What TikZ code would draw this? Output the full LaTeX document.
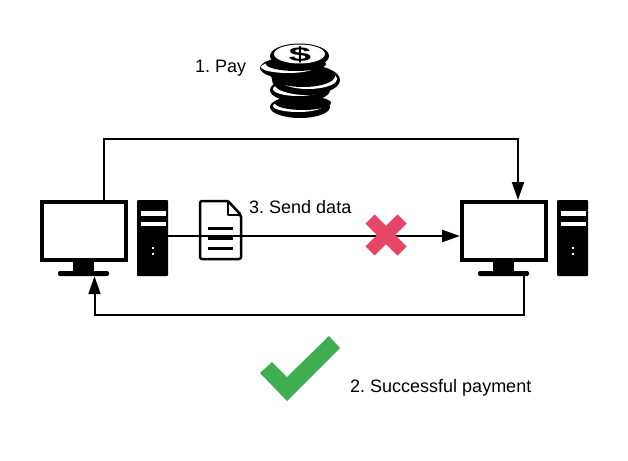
\documentclass[tikz,border=0pt]{standalone}
\usepackage{fontspec}
\setmainfont{Liberation Sans}
\usetikzlibrary{arrows.meta}
\frenchspacing
\definecolor{CrossRed}{RGB}{230,69,102}
\definecolor{TickGreen}{RGB}{63,174,80}
\tikzset{
  screen/.style={rectangle,draw=black,fill=white,line width=4pt,inner sep=0pt,
    minimum width=84pt,minimum height=58pt},
  stand/.style={rectangle,fill=black,inner sep=0pt,minimum width=21pt,minimum height=10pt},
  foot/.style={rectangle,fill=black,rounded corners=2pt,inner sep=0pt,
    minimum width=51pt,minimum height=5pt},
  tower/.style={rectangle,fill=black,rounded corners=1pt,inner sep=0pt,
    minimum width=31pt,minimum height=76pt},
  slot/.style={rectangle,fill=white,inner sep=0pt,minimum width=25pt,minimum height=4.5pt},
  led/.style={rectangle,fill=white,inner sep=0pt,minimum width=2pt,minimum height=2pt},
  link/.style={draw=black,line width=2pt,-{Triangle[length=18pt,width=12pt]}},
  label/.style={anchor=west,inner sep=0pt,font=\fontsize{18}{20}\selectfont},
  docline/.style={line width=3pt,draw=black},
}
\begin{document}
\begin{tikzpicture}[x=1pt,y=-1pt]
  \useasboundingbox (0,0) rectangle (628,460);
  % computers
  \foreach \side/\dx in {L/0,R/420} {
    \node[stand] (stand\side) at (83.5+\dx,267) {};
    \node[screen] (screen\side) at (84+\dx,231) {};
    \node[foot] (foot\side) at (83.5+\dx,273.5) {};
    \node[tower] (tower\side) at (152.5+\dx,238) {};
    \node[slot] at (153.5+\dx,213.5) {};
    \node[slot] at (153.5+\dx,224) {};
    \node[led] at (153+\dx,248) {};
    \node[led] at (153+\dx,254) {};
  }
  % coins
  \foreach \cx/\cy/\rx/\ry/\wx/\kx in {300/107/30/11/-2/3,300/90/30/12/-2/4,306/80/34/15/2/-3,292/68/32/11/-4/4} {
    \fill[black] (\cx,\cy) ellipse ({\rx} and {\ry});
    \fill[white] (\cx+\wx,\cy-1) ellipse ({\rx-5} and {\ry-5});
    \fill[black] (\cx+\kx,\cy-4) ellipse ({\rx-2} and {\ry-4});
  }
  \fill[black] (299.5,56) ellipse (29.5 and 12.5);
  \fill[white] (299.5,54) ellipse (25.5 and 9.5);
  \node[inner sep=0pt,font=\bfseries\fontsize{20}{20}\selectfont,xscale=2] (dollar) at (300,55) {\$};
  % document
  \draw[line width=2.5pt,line join=round,rounded corners=2pt] (228,201) -- (200,201) -- (200,259) -- (241,259) -- (241,215) -- (228,201);
  \draw[line width=2.5pt,line join=round] (228,201) -- (228,215) -- (241,215);
  \draw[docline] (208,228) -- (233,228);
  \draw[docline] (208,238) -- (233,238);
  \draw[docline] (208,248) -- (233,248);
  % connectors
  \draw[link] ([xshift=20pt]screenL.north) -- ++(0,-61) -| ([xshift=14pt]screenR.north);
  \draw[link] ([xshift=20pt]footR.south) -- ++(0,39) -| ([xshift=11pt]footL.south);
  \draw[link] ([yshift=2pt]towerL.east) -- ([yshift=-5pt]screenR.west);
  % cross
  \draw[line width=13pt,CrossRed] (370,219) -- (402,251);
  \draw[line width=13pt,CrossRed] (370,251) -- (402,219);
  % tick
  \fill[TickGreen] (260,373) -- (272,362) -- (287,377) -- (329,336) -- (340,348) -- (287,401) -- cycle;
  % labels
  \node[label] (pay) at (195,68) {1. Pay};
  \node[label] (send) at (249,207) {3. Send data};
  \node[label] (success) at (350,388) {2. Successful payment};
\end{tikzpicture}
\end{document}
